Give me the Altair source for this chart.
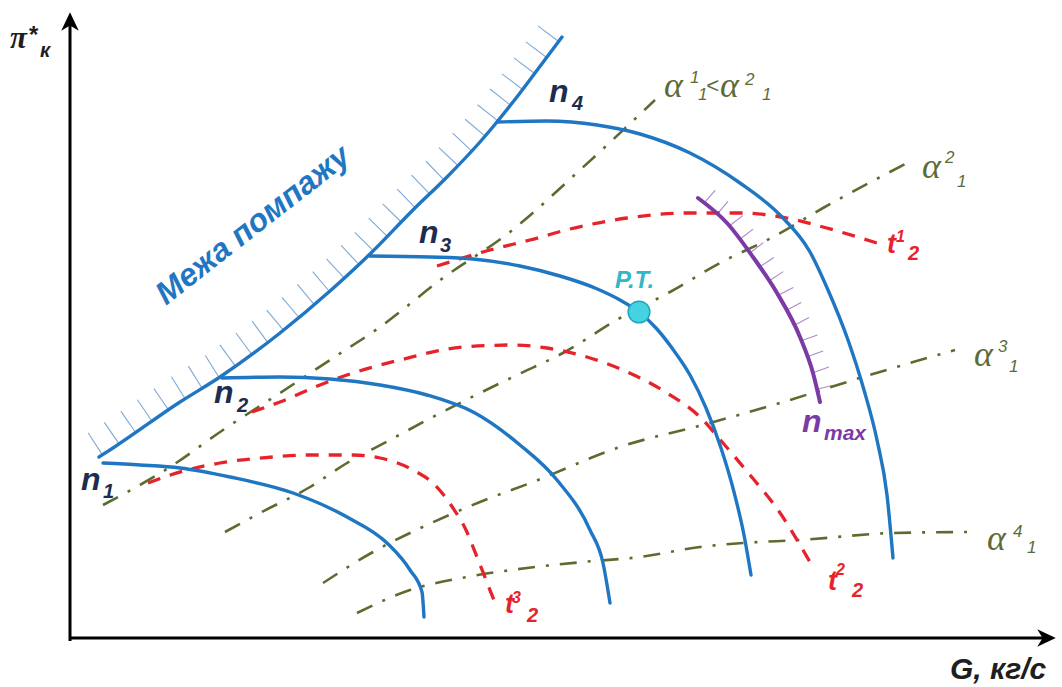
import altair as alt
import numpy as np
import pandas as pd

# ---- compressor map, diagram units: G along the flow axis, P = pi*_k ----
surge_G = [29, 43, 110, 150, 210, 260, 300, 343, 377, 410, 427, 450, 477, 492]
surge_P = [181, 190, 236, 261, 305, 347, 384, 428, 461, 496, 516, 545, 581, 601]

n1_G = [33, 70, 110, 160, 223, 277, 317, 340, 352, 354]
n1_P = [175, 173, 170, 161, 145, 121, 95, 68, 46, 21]

n2_G = [152, 210, 260, 310, 357, 405, 450, 487, 520, 533, 540]
n2_P = [260, 261, 259, 253, 243, 225, 193, 158, 108, 75, 35]

n3_G = [300, 360, 403, 450, 490, 525, 550, 569, 586, 602, 620, 636, 651, 664, 674, 681]
n3_P = [382, 381, 379, 372, 362, 350, 338, 326, 310, 290, 263, 230, 190, 146, 103, 63]

n4_G = [427, 477, 527, 570, 620, 670, 710, 740, 758, 778, 794, 807, 817, 823]
n4_P = [516, 517, 513, 504, 485, 455, 423, 386, 348, 298, 248, 198, 143, 80]

nmax_G = [628, 657, 683, 707, 730, 743, 750]
nmax_P = [440, 415, 381, 345, 301, 265, 236]

t1_G = [367, 420, 460, 500, 557, 617, 670, 717, 753, 807]
t1_P = [372, 388, 398, 409, 420, 425, 425, 420, 411, 395]

t2_G = [182, 210, 250, 283, 330, 393, 443, 477, 517, 553, 597, 630, 653, 680, 708, 740]
t2_P = [226, 236, 253, 265, 278, 291, 293, 290, 281, 268, 245, 221, 195, 163, 128, 76]

t3_G = [78, 117, 150, 203, 237, 283, 310, 343, 365, 383, 396, 407, 418, 427]
t3_P = [155, 168, 175, 181, 183, 183, 180, 168, 153, 130, 108, 81, 53, 30]

a1_G = [33, 100, 153, 210, 260, 310, 373, 440, 510, 585]
a1_P = [133, 171, 208, 245, 278, 311, 360, 406, 468, 538]

a2_G = [155, 190, 240, 277, 320, 357, 410, 447, 493, 550, 600, 650, 703, 753, 843]
a2_P = [106, 125, 151, 175, 198, 218, 245, 263, 285, 320, 346, 375, 401, 430, 478]

a3_G = [253, 303, 357, 410, 463, 550, 640, 710, 793, 885]
a3_P = [55, 86, 113, 136, 156, 191, 215, 235, 261, 288]

a4_G = [287, 340, 397, 457, 513, 570, 630, 673, 730, 823, 897]
a4_P = [25, 48, 61, 70, 76, 81, 91, 95, 98, 105, 106]

design_point_G = [569]
design_point_P = [326]

# text labels: text, G, P, font size, colour, font group
lab_text = ["π", "*", "к", "G, кг/с",
            "n", "1", "n", "2", "n", "3", "n", "4", "n", "max",
            "P.T.",
            "t", "1", "2", "t", "2", "2", "t", "3", "2",
            "α", "1", "1", "<", "α", "2", "1",
            "α", "2", "1", "α", "3", "1", "α", "4", "1"]
lab_G = [-60, -42, -30, 880,
         11, 33, 144, 167, 349, 370, 479, 502, 732, 754,
         545,
         817, 826, 838, 758, 766, 782, 435, 442, 457,
         594, 620, 628, 636, 650, 675, 692,
         852, 875, 887, 904, 928, 939, 917, 943, 957]
lab_P = [590, 595, 581, -41,
         148, 140, 235, 226, 395, 386, 536, 528, 206, 198,
         350,
         385, 396, 378, 48, 63, 41, 25, 35, 16,
         541, 555, 538, 545, 541, 553, 538,
         460, 475, 451, 272, 286, 266, 88, 101, 85]
lab_size = [31, 24, 20, 30,
            32, 20, 32, 20, 32, 20, 32, 20, 32, 21,
            24,
            27, 16, 20, 27, 16, 20, 27, 16, 20,
            36, 17, 17, 22, 36, 17, 17,
            36, 17, 17, 36, 17, 17, 36, 17, 17]

BLUE = "#1f76c2"
NAVY = "#1c2d4d"
RED = "#e6232b"
OLIVE = "#5e6b2f"
OLIVE_TXT = "#5d6b38"
PURPLE = "#7b3aa5"
TEAL = "#33b6c9"
INK = "#1e1e1e"

lab_color = ([INK] * 4 + [NAVY] * 8 + [PURPLE] * 2 + [TEAL] + [RED] * 9
             + [OLIVE_TXT] * 16)
lab_group = (["serif_bold", "sans", "sans", "sans"] + ["sans"] * 10 + ["sans"]
             + ["sans"] * 9
             + ["serif", "plain", "plain", "plain", "serif", "plain", "plain"]
             + ["serif", "plain", "plain"] * 3)

surge_label = ["Межа помпажу"]
surge_label_G = [183]
surge_label_P = [413]


def curve(name, gs, ps):
    return pd.DataFrame({"curve": name, "G": gs, "P": ps, "i": range(len(gs))})


def hatches(gs, ps, step, length, start):
    """Short ticks normal to a polyline, on its left-hand side."""
    g = np.asarray(gs, float)
    p = np.asarray(ps, float)
    seg = np.hypot(np.diff(g), np.diff(p))
    cum = np.concatenate([[0], np.cumsum(seg)])
    rows = []
    s = start
    while s <= cum[-1]:
        k = min(np.searchsorted(cum, s, side="right") - 1, len(seg) - 1)
        f = (s - cum[k]) / seg[k]
        bg = g[k] + f * (g[k + 1] - g[k])
        bp = p[k] + f * (p[k + 1] - p[k])
        tg, tp = (g[k + 1] - g[k]) / seg[k], (p[k + 1] - p[k]) / seg[k]
        rows.append({"G": bg, "P": bp, "G2": bg - tp * length, "P2": bp + tg * length})
        s += step
    return pd.DataFrame(rows)


xs = alt.Scale(domain=[-70, 992], nice=False, zero=False)
ys = alt.Scale(domain=[-49, 638], nice=False, zero=False)
X = alt.X("G:Q", scale=xs, axis=None)
Y = alt.Y("P:Q", scale=ys, axis=None)


def lines(df, color, width, dash=None, cap="round"):
    kw = dict(color=color, strokeWidth=width, interpolate="monotone", strokeCap=cap)
    if dash:
        kw["strokeDash"] = dash
    return alt.Chart(df).mark_line(**kw).encode(
        x=X, y=Y, detail="curve:N", order="i:Q")


surge_df = curve("surge", surge_G, surge_P)
speed_df = pd.concat([curve("n1", n1_G, n1_P), curve("n2", n2_G, n2_P),
                      curve("n3", n3_G, n3_P), curve("n4", n4_G, n4_P)])
temp_df = pd.concat([curve("t1", t1_G, t1_P), curve("t2", t2_G, t2_P),
                     curve("t3", t3_G, t3_P)])
alpha_df = pd.concat([curve("a1", a1_G, a1_P), curve("a2", a2_G, a2_P),
                      curve("a3", a3_G, a3_P), curve("a4", a4_G, a4_P)])
nmax_df = curve("nmax", nmax_G, nmax_P)

surge_hatch = hatches(surge_G, surge_P, step=20, length=26, start=4)
nmax_hatch = hatches(nmax_G, nmax_P, step=17, length=17, start=8)

hatch_layer_surge = alt.Chart(surge_hatch).mark_rule(color="#7fa8d6", strokeWidth=1.1).encode(
    x=X, y=Y, x2="G2:Q", y2="P2:Q")
hatch_layer_nmax = alt.Chart(nmax_hatch).mark_rule(color="#ab8acb", strokeWidth=1.1).encode(
    x=X, y=Y, x2="G2:Q", y2="P2:Q")

alpha_layer = lines(alpha_df, OLIVE, 2.6, dash=[17, 11, 3, 11], cap="butt")
temp_layer = lines(temp_df, RED, 3.3, dash=[13, 10], cap="butt")
speed_layer = lines(speed_df, BLUE, 3.4)
surge_layer = lines(surge_df, BLUE, 3.4)
nmax_layer = lines(nmax_df, PURPLE, 4)

pt_layer = alt.Chart(pd.DataFrame({"G": design_point_G, "P": design_point_P})).mark_point(
    shape="circle", filled=True, size=470, color="#45d3e3", stroke="#1ea7ba",
    strokeWidth=1.5, opacity=1).encode(x=X, y=Y)

# axes with arrowheads
axis_df = pd.DataFrame({"G": [0, 0], "P": [-3, 0], "G2": [0, 976], "P2": [614, 0]})
axis_layer = alt.Chart(axis_df).mark_rule(color="black", strokeWidth=3).encode(
    x=X, y=Y, x2="G2:Q", y2="P2:Q")
up_arrow = alt.Chart(pd.DataFrame({"G": [0], "P": [616]})).mark_point(
    shape="M0,-1L0.9,0.9L0,0.35L-0.9,0.9Z", filled=True, size=380, color="black",
    opacity=1).encode(x=X, y=Y)
right_arrow = alt.Chart(pd.DataFrame({"G": [976], "P": [0]})).mark_point(
    shape="M1,0L-0.9,-0.9L-0.35,0L-0.9,0.9Z", filled=True, size=380, color="black",
    opacity=1).encode(x=X, y=Y)

labels = pd.DataFrame({"text": lab_text, "G": lab_G, "P": lab_P, "fs": lab_size,
                       "col": lab_color, "grp": lab_group})


def text_layer(grp, font, style, weight):
    return alt.Chart(labels[labels.grp == grp]).mark_text(
        align="left", baseline="alphabetic", font=font, fontStyle=style,
        fontWeight=weight).encode(
        x=X, y=Y, text="text:N", size=alt.Size("fs:Q", scale=None),
        color=alt.Color("col:N", scale=None))


sans_text = text_layer("sans", "Liberation Sans", "italic", "bold")
plain_text = text_layer("plain", "Liberation Sans", "italic", "normal")
serif_text = text_layer("serif", "Liberation Serif", "italic", "normal")
pi_text = text_layer("serif_bold", "Liberation Serif", "italic", "bold")

surge_text = alt.Chart(pd.DataFrame({"text": surge_label, "G": surge_label_G,
                                     "P": surge_label_P})).mark_text(
    font="Liberation Sans", fontStyle="italic", fontWeight="bold", fontSize=32,
    color=BLUE, angle=322, align="center", baseline="middle").encode(
    x=X, y=Y, text="text:N")

chart = alt.layer(
    hatch_layer_surge, hatch_layer_nmax, alpha_layer, temp_layer,
    speed_layer, surge_layer, nmax_layer, pt_layer,
    axis_layer, up_arrow, right_arrow,
    sans_text, plain_text, serif_text, pi_text, surge_text,
).properties(
    width=1062, height=687, padding=0,
    autosize=alt.AutoSizeParams(type="none"),
    background="white",
).configure_view(stroke=None)

chart.save("out.html", embed_options={"renderer": "svg", "actions": False})
